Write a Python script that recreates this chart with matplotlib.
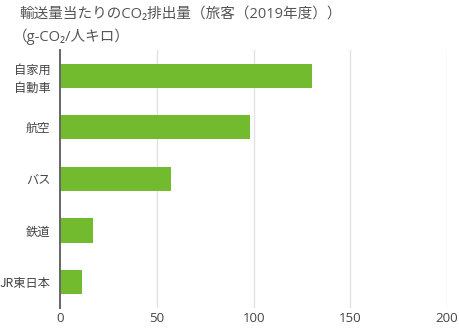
import matplotlib.pyplot as plt

plt.rcParams["font.family"] = ["Noto Sans CJK JP", "DejaVu Sans"]

modes = ["自家用\n自動車", "航空", "バス", "鉄道", "JR東日本"]
emissions = [130, 98, 57, 17, 11]
xticks = [0, 50, 100, 150, 200]

title = "輸送量当たりのCO₂排出量（旅客（2019年度））"
unit = "（g-CO₂/人キロ）"

fig = plt.figure(figsize=(4.6, 3.28), dpi=100)
ax = fig.add_axes([0.131, 0.061, 0.841, 0.787])

ax.barh(range(len(modes)), emissions, height=0.47, color="#72bb2f", zorder=2)
ax.set_ylim(4.5, -0.5)
ax.set_xlim(0, 200)
ax.set_yticks(range(len(modes)))
ax.set_yticklabels(modes, fontsize=8.8, color="#444444", linespacing=1.5)
ax.set_xticks(xticks)
ax.set_xticklabels([str(t) for t in xticks], fontsize=9.5, color="#444444",
                   family=["Open Sans", "Noto Sans CJK JP"])
ax.tick_params(axis="both", length=0)
ax.tick_params(axis="y", pad=7)
ax.tick_params(axis="x", pad=3)

for s in ["top", "right", "bottom"]:
    ax.spines[s].set_visible(False)
ax.spines["left"].set_color("#666666")
ax.spines["left"].set_linewidth(1.4)
ax.spines["left"].set_zorder(3)

for t in xticks[1:]:
    ax.axvline(t, color="#e2e2e2", linewidth=1, zorder=1)

fig.text(0.043, 0.957, title, fontsize=10.5, color="#555555", va="center",
         family=["Open Sans", "Noto Sans CJK JP", "DejaVu Sans"])
fig.text(0.028, 0.887, unit, fontsize=10.5, color="#555555", va="center",
         family=["Open Sans", "Noto Sans CJK JP", "DejaVu Sans"])

fig.savefig("out.png", dpi=100)
